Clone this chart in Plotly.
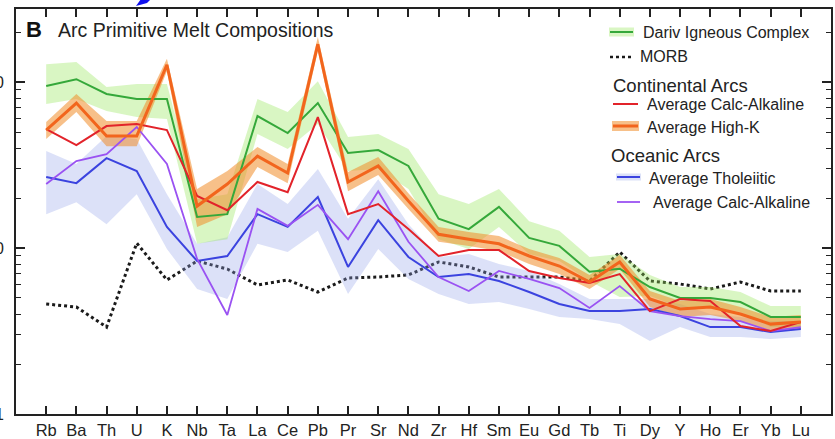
import plotly.graph_objects as go

elements = ["Rb", "Ba", "Th", "U", "K", "Nb", "Ta", "La", "Ce", "Pb", "Pr", "Sr", "Nd",
            "Zr", "Hf", "Sm", "Eu", "Gd", "Tb", "Ti", "Dy", "Y", "Ho", "Er", "Yb", "Lu"]

dariv = [94.6, 104, 84.7, 79, 79, 15.4, 16.0, 62.4, 49.3, 74.7, 37.4, 38.9, 31.2,
         15.0, 13.0, 17.7, 11.5, 10.3, 7.2, 7.5, 5.82, 5.0, 5.0, 4.73, 3.84, 3.84]
dariv_hi = [128, 132, 93.3, 97.2, 97.2, 19.7, 21.1, 79, 65.9, 101, 46.6, 48.6, 39.5,
            21.1, 18.4, 22.7, 14.5, 12.7, 8.83, 9.2, 6.88, 5.82, 5.82, 5.43, 4.47, 4.47]
dariv_lo = [73.7, 79, 66.9, 61.5, 59.8, 10.6, 11.3, 48.6, 39.5, 55.8, 29.1, 29.9, 22.7,
            11.3, 9.86, 13.4, 9.2, 8.35, 6.33, 5.07, 5.14, 4.41, 4.41, 4.11, 3.34, 3.34]

morb = [4.6, 4.41, 3.34, 10.7, 6.42, 8.35, 7.47, 5.99, 6.42, 5.43, 6.6, 6.69, 6.88,
        8.24, 7.69, 6.69, 6.69, 6.69, 6.33, 9.46, 6.33, 6.07, 5.66, 6.24, 5.51, 5.51]

cont_calc_alk = [52.1, 41.7, 54.3, 55.8, 51.4, 20.6, 16.9, 25.0, 21.7, 61.5, 16.0, 18.4, 13.0,
                 8.95, 9.72, 9.72, 7.27, 6.6, 6.15, 6.97, 4.17, 4.93, 4.79, 3.39, 3.16, 3.58]
high_k = [51.4, 74.7, 47.3, 47.3, 127, 17.9, 24.3, 35.8, 28.3, 169, 25.0, 31.2, 19.2,
          12.1, 11.3, 10.6, 8.95, 7.79, 6.24, 8.24, 4.93, 4.29, 4.41, 4.0, 3.48, 3.58]
high_k_hi = [57.4, 84.7, 58.2, 58.2, 138, 22.7, 29.1, 40.6, 32.1, 187, 28.7, 35.3, 21.4,
             13.4, 12.5, 11.8, 9.86, 8.71, 6.88, 9.08, 5.51, 4.79, 4.93, 4.41, 3.84, 3.95]
high_k_lo = [45.4, 65.9, 41.1, 41.1, 116, 13.4, 16.0, 30.8, 24.6, 154, 22.0, 27.5, 17.2,
             10.9, 10.3, 9.59, 8.01, 6.97, 5.66, 7.47, 4.41, 3.84, 3.95, 3.63, 3.16, 3.25]

tholeiitic = [26.8, 24.6, 34.8, 29.1, 13.4, 8.35, 8.95, 16.0, 13.4, 20.3, 7.69, 14.7, 8.83,
              6.69, 6.97, 6.33, 5.43, 4.6, 4.17, 4.17, 4.29, 3.89, 3.34, 3.34, 3.12, 3.25]
ocean_calc_alk = [24.3, 33.4, 36.8, 53.6, 32.1, 8.59, 3.95, 17.2, 13.6, 18.2, 11.3, 22.0, 10.9,
                  6.69, 5.51, 7.27, 6.51, 5.74, 4.35, 5.9, 4.17, 3.89, 3.73, 3.63, 3.16, 3.34]
ocean_hi = [38.4, 32.1, 47.3, 45.4, 21.1, 10.6, 11.6, 24.3, 18.4, 29.9, 15.0, 26.0, 13.9,
            8.83, 9.2, 8.01, 7.27, 6.07, 4.93, 4.93, 4.93, 4.6, 4.0, 3.84, 3.63, 3.63]
ocean_lo = [16.0, 18.9, 13.9, 21.1, 9.86, 5.66, 4.93, 10.6, 9.46, 12.7, 5.28, 9.86, 6.51,
            5.28, 4.6, 4.73, 4.29, 3.84, 3.73, 3.48, 2.75, 3.34, 2.91, 2.91, 2.83, 2.91]

y_tick_vals = [1, 10, 100]
y_tick_text = ["1", "10", "100"]
y_minor_vals = [2, 3, 4, 5, 6, 7, 8, 9, 20, 30, 40, 50, 60, 70, 80, 90, 200]

FONT = "Liberation Sans, Arial, Helvetica, sans-serif"
GREEN = "#35a83a"
GREEN_BAND = "rgba(150,230,90,0.36)"
ORANGE = "#f2651d"
ORANGE_BAND = "rgba(240,140,40,0.55)"
RED = "#e2232a"
BLUE = "#3b43df"
PURPLE = "#9a52f2"
OCEAN_BAND = "rgba(150,165,235,0.33)"

fig = go.Figure()

# MORB (drawn under the bands)
fig.add_trace(go.Scatter(x=elements, y=morb, mode="lines",
                         line=dict(color="#1a1a1a", width=3, dash="dot"), showlegend=False))


def band(hi, lo, color):
    fig.add_trace(go.Scatter(x=elements, y=hi, mode="lines", line=dict(width=0),
                             showlegend=False, hoverinfo="skip"))
    fig.add_trace(go.Scatter(x=elements, y=lo, mode="lines", line=dict(width=0),
                             fill="tonexty", fillcolor=color, showlegend=False, hoverinfo="skip"))


band(ocean_hi, ocean_lo, OCEAN_BAND)
band(dariv_hi, dariv_lo, GREEN_BAND)
band(high_k_hi, high_k_lo, ORANGE_BAND)

fig.add_trace(go.Scatter(x=elements, y=dariv, mode="lines", line=dict(color=GREEN, width=2), showlegend=False))
fig.add_trace(go.Scatter(x=elements, y=tholeiitic, mode="lines", line=dict(color=BLUE, width=2), showlegend=False))
fig.add_trace(go.Scatter(x=elements, y=ocean_calc_alk, mode="lines", line=dict(color=PURPLE, width=1.8), showlegend=False))
fig.add_trace(go.Scatter(x=elements, y=cont_calc_alk, mode="lines", line=dict(color=RED, width=2), showlegend=False))
fig.add_trace(go.Scatter(x=elements, y=high_k, mode="lines", line=dict(color=ORANGE, width=3), showlegend=False))

L, T, W, H = 16, 9, 815, 405


def px(x):
    return (x - L) / W


def py(y):
    return (T + H - y) / H


annotations = []


def text(x, y, s, size, bold=False, color="#222"):
    annotations.append(dict(xref="paper", yref="paper", x=px(x), y=py(y), text=("<b>%s</b>" % s) if bold else s,
                            showarrow=False, xanchor="left", yanchor="middle",
                            font=dict(family=FONT, size=size, color=color)))


text(24, 30, "B", 22, bold=True, color="#111")
text(56, 30, "Arc Primitive Melt Compositions", 19.5)
text(641, 32, "Dariv Igneous Complex", 16)
text(638, 57, "MORB", 16)
text(611, 85, "Continental Arcs", 18.5)
text(645, 104, "Average Calc-Alkaline", 16)
text(645, 127, "Average High-K", 16)
text(609, 155, "Oceanic Arcs", 18.5)
text(647, 178, "Average Tholeiitic", 16)
text(651, 203, "Average Calc-Alkaline", 16)

shapes = []


def rect(x0, x1, yc, h, color):
    shapes.append(dict(type="rect", xref="paper", yref="paper", x0=px(x0), x1=px(x1),
                       y0=py(yc + h / 2), y1=py(yc - h / 2), fillcolor=color, line=dict(width=0)))


def seg(x0, x1, yc, color, width, dash="solid"):
    shapes.append(dict(type="line", xref="paper", yref="paper", x0=px(x0), x1=px(x1),
                       y0=py(yc), y1=py(yc), line=dict(color=color, width=width, dash=dash)))


rect(609, 634, 32, 9, GREEN_BAND)
seg(610, 633, 32, GREEN, 2)
seg(610, 631, 57, "#1a1a1a", 2.5, "dot")
seg(613, 638, 104, RED, 2)
rect(612, 639, 126, 10, ORANGE_BAND)
seg(613, 638, 126, ORANGE, 3)
rect(616, 641, 177, 7, OCEAN_BAND)
seg(617, 640, 177, BLUE, 2)
seg(617, 640, 202, PURPLE, 1.8)

# small blue wedge at the top edge (as in the source image)
shapes.append(dict(type="path", xref="paper", yref="paper",
                   path="M %f,%f L %f,%f L %f,%f L %f,%f Z" % (px(136), py(6), px(141), py(-1),
                                                              px(151), py(-1), px(147), py(3)),
                   fillcolor="#1010ee", line=dict(width=0)))

fig.update_layout(
    width=835, height=439,
    margin=dict(l=L, r=835 - L - W, t=T, b=439 - T - H, autoexpand=False),
    paper_bgcolor="white", plot_bgcolor="white",
    showlegend=False,
    annotations=annotations, shapes=shapes,
    xaxis=dict(type="category", range=[-1, 26], showgrid=False, zeroline=False, automargin=False,
               showline=True, linecolor="#222", linewidth=2, mirror="ticks",
               ticks="inside", ticklen=8, tickwidth=1.5, tickcolor="#222",
               tickfont=dict(family=FONT, size=16.5, color="#222")),
    yaxis=dict(type="log", range=[0, 2.44], showgrid=False, zeroline=False, automargin=False,
               showline=True, linecolor="#222", linewidth=2, mirror="ticks",
               tickmode="array", tickvals=y_tick_vals, ticktext=y_tick_text,
               ticks="inside", ticklen=9, tickwidth=1.5, tickcolor="#222",
               ticklabelstandoff=7,
               minor=dict(tickmode="array", tickvals=y_minor_vals, ticks="inside",
                          ticklen=5, tickwidth=1.2, tickcolor="#222", showgrid=False),
               tickfont=dict(family=FONT, size=16, color="#222")),
)

fig.write_html("out.html", config={"displayModeBar": False},
               post_script="document.body.style.margin='0';document.body.style.overflow='hidden';")
